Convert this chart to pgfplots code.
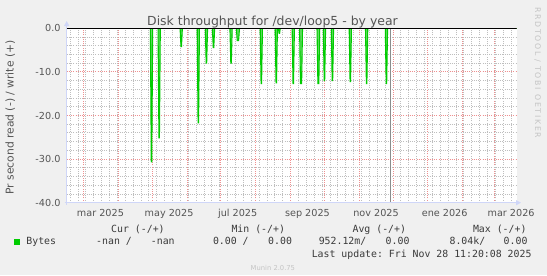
\documentclass[border=0pt]{standalone}
\usepackage{pgfplots}
\pgfplotsset{compat=1.18}
\usepackage{fontspec}
\setmainfont{DejaVu Sans}
\setmonofont{DejaVu Sans Mono}
\newfontfamily\wmfont[LetterSpace=22]{DejaVu Sans}
\usetikzlibrary{arrows.meta}
\definecolor{bgc}{HTML}{F0F0F0}
\definecolor{fontc}{HTML}{555555}
\definecolor{legc}{HTML}{3A3A3A}
\definecolor{axc}{HTML}{CFD6F8}
\definecolor{mgrid}{HTML}{EE9090}
\definecolor{ngrid}{HTML}{BEBEBE}
\definecolor{spk}{HTML}{00CC00}
\definecolor{spkf}{HTML}{66DD66}
\definecolor{nowc}{HTML}{8C8C8C}
\definecolor{wm}{HTML}{C4C4C4}
\begin{document}
\begin{tikzpicture}[x=1bp,y=1bp]
\fill[bgc] (0,0) rectangle (547,275);
\begin{axis}[
  at={(66.7bp,72.3bp)}, anchor=south west,
  scale only axis, width=450bp, height=174.4bp,
  xmin=-15, xmax=385, ymin=-40, ymax=0,
  axis background/.style={fill=white},
  axis line style={draw=none},
  xtick={0,31,61,92,122,153,184,214,245,275,306,337,365},
  xticklabels={},
  minor xtick={-12,-5,...,380},
  extra x ticks={15,76,137,199,260,321,380},
  extra x tick labels={mar 2025,may 2025,jul 2025,sep 2025,nov 2025,ene 2026,mar 2026},
  extra x tick style={grid=none},
  ytick={-40,-30,-20,-10,0},
  yticklabels={-40.0,-30.0,-20.0,-10.0,0.0},
  minor ytick={-38,-36,...,-2},
  grid=both,
  major grid style={mgrid, line width=0.9bp, dash pattern=on 1bp off 1.2bp},
  minor grid style={ngrid, line width=0.9bp, dash pattern=on 1bp off 1.2bp},
  major tick length=0pt, minor tick length=0pt,
  tick style={draw=none},
  xticklabel style={font=\fontsize{9.7}{10}\selectfont, text=fontc, anchor=base, inner sep=0pt, yshift=-13.3bp},
  yticklabel style={font=\fontsize{9.7}{10}\selectfont, text=fontc, anchor=east, inner sep=0pt, xshift=-6bp},
  clip=true,
]
\addplot[draw=spk, line width=1.1bp, fill=spkf] coordinates {
(-15,0)
(59.4,0)(60.2,-30.6)(60.6,-30.6)(61.4,0)
(66.2,0)(67,-25.1)(67.4,-25.1)(68.2,0)
(85.8,0)(86.6,-4.2)(87,-4.2)(87.8,0)
(101,0)(101.8,-21.7)(102.2,-21.7)(103,0)
(108.2,0)(109,-8.0)(109.4,-8.0)(110.2,0)
(114.5,0)(115.3,-4.4)(115.7,-4.4)(116.5,0)
(130.1,0)(130.9,-8.0)(131.3,-8.0)(132.1,0)
(135.8,0)(136.6,-2.8)(137.8,-2.8)(138.6,0)
(157,0)(157.8,-12.7)(158.2,-12.7)(159,0)
(170.3,0)(171.1,-12.5)(171.5,-12.5)(172.3,0)
(173.2,0)(173.8,-1.15)(174.2,-1.15)(174.8,0)
(185.4,0)(186.2,-12.7)(186.6,-12.7)(187.4,0)
(192,0)(192.8,-12.7)(193.8,-12.7)(194.6,0)
(207.5,0)(208.3,-12.7)(209.1,-12.7)(209.9,0)
(213.1,0)(213.9,-12.0)(214.3,-12.0)(215.1,0)
(220.2,0)(221,-12.0)(221.4,-12.0)(222.2,0)
(236.1,0)(236.9,-12.2)(237.3,-12.2)(238.1,0)
(250.6,0)(251.4,-12.7)(251.8,-12.7)(252.6,0)
(268.2,0)(269,-12.7)(269.4,-12.7)(270.2,0)
(385,0)
};
\addplot[draw=nowc, line width=1bp] coordinates {(272.6,-40) (272.6,0)};
\addplot[draw=black, line width=1bp] coordinates {(-15,0) (385,0)};
\end{axis}
% axes with arrows
\draw[axc, line width=1bp, -{Triangle[length=5bp,width=5bp]}] (66.7,70.3) -- (66.7,254);
\draw[axc, line width=1bp, -{Triangle[length=5bp,width=5bp]}] (64.7,72.3) -- (521,72.3);
% title and labels
\node[anchor=base, inner sep=0pt, text=fontc, font=\fontsize{12.5}{13}\selectfont] at (272.5,250) {Disk throughput for /dev/loop5 - by year};
\node[rotate=90, anchor=base, inner sep=0pt, text=fontc, font=\fontsize{10.8}{11}\selectfont] at (13.5,157.5) {Pr second read (-) / write (+)};
\node[rotate=-90, anchor=base west, inner sep=0pt, text=wm, font=\wmfont\fontsize{7.8}{8}\selectfont] at (535,268) {RRDTOOL / TOBI OETIKER};
% legend
\fill[spk] (13.5,30.5) rectangle (19.5,36.5);
\begin{scope}[every node/.style={anchor=base west, inner sep=0pt, text=legc, font=\fontsize{9.9}{10}\ttfamily}]
\node at (111,42.3) {Cur (-/+)};
\node at (231.3,42.3) {Min (-/+)};
\node at (352.4,42.3) {Avg (-/+)};
\node at (472.8,42.3) {Max (-/+)};
\node at (26.2,30.1) {Bytes};
\node at (96,30.1) {-nan /};
\node at (150.7,30.1) {-nan};
\node at (212.8,30.1) {0.00 /};
\node at (268,30.1) {0.00};
\node at (318.6,30.1) {952.12m/};
\node at (385.5,30.1) {0.00};
\node at (449.4,30.1) {8.04k/};
\node at (503.5,30.1) {0.00};
\node at (311.6,17.2) {Last update: Fri Nov 28 11:20:08 2025};
\end{scope}
\node[anchor=base, inner sep=0pt, text=wm, font=\fontsize{6.8}{7}\selectfont] at (272.9,5) {Munin 2.0.75};
\end{tikzpicture}
\end{document}
